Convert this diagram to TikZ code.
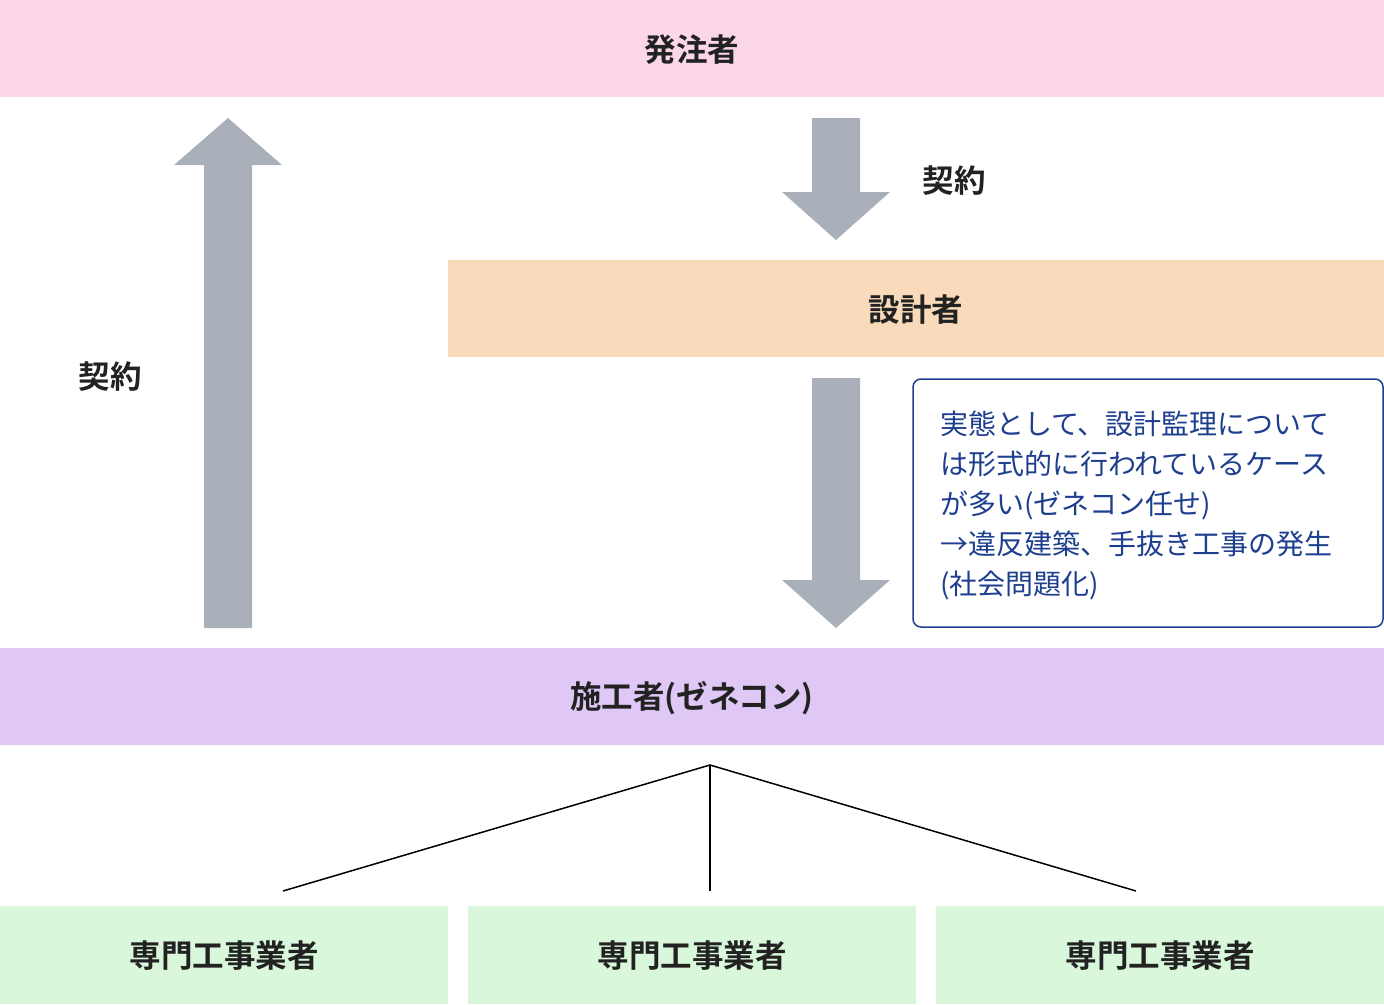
\documentclass[tikz,border=0pt]{standalone}
\usepackage{fontspec}
\setmainfont{Noto Sans CJK JP}
\newfontfamily\jpb{Noto Sans CJK JP Bold}
\usetikzlibrary{positioning}
\definecolor{cpink}{HTML}{FAD6E8}
\definecolor{cpeach}{HTML}{F9DABA}
\definecolor{clav}{HTML}{DFC8F5}
\definecolor{cgreen}{HTML}{D9F7DA}
\definecolor{carrow}{HTML}{AAB0BA}
\definecolor{cblue}{HTML}{1E3F8F}
\definecolor{ctext}{HTML}{222222}
\tikzset{
  band/.style={fill=#1, draw=none, inner sep=0pt},
  lbl/.style={font=\jpb\fontsize{31.5}{36}\selectfont, text=ctext},
  bigarrow/.style={fill=carrow, draw=none},
  notebox/.style={draw=cblue, line width=1.5pt, rounded corners=8pt, fill=white},
  notetext/.style={font=\fontsize{28}{40}\selectfont, text=cblue, align=left, anchor=north west, inner sep=0pt},
  conn/.style={draw=black, line width=1.5pt}
}
\begin{document}
\begin{tikzpicture}[x=1pt,y=-1pt]
\useasboundingbox (0,0) rectangle (1384,1004);
% bands
\fill[cpink] (0,0) rectangle (1384,97);
\node[lbl] (client) at (692,50) {発注者};
\fill[cpeach] (448,260) rectangle (1384,357);
\node[lbl] (designer) at (916,310) {設計者};
\fill[clav] (0,648) rectangle (1384,745);
\node[lbl] (gc) at (692,698) {施工者(ゼネコン)};
\fill[cgreen] (0,906) rectangle (448,1004);
\fill[cgreen] (468,906) rectangle (916,1004);
\fill[cgreen] (936,906) rectangle (1384,1004);
\node[lbl] (s1) at (224,956) {専門工事業者};
\node[lbl] (s2) at (692,956) {専門工事業者};
\node[lbl] (s3) at (1160,956) {専門工事業者};
% arrows
\fill[carrow] (204,628) -- (204,165) -- (174,165) -- (228,118) -- (282,165) -- (252,165) -- (252,628) -- cycle;
\fill[carrow] (812,118) -- (812,192) -- (782,192) -- (836,240) -- (890,192) -- (860,192) -- (860,118) -- cycle;
\fill[carrow] (812,378) -- (812,580) -- (782,580) -- (836,628) -- (890,580) -- (860,580) -- (860,378) -- cycle;
\node[lbl] (k1) at (110,377) {契約};
\node[lbl] (k2) at (954,181) {契約};
% note
\draw[notebox] (913,379) rectangle (1383,627);
\node[notetext] (note) at (940,411) {実態として、設計監理について\\は形式的に行われているケース\\が多い(ゼネコン任せ)\\→違反建築、手抜き工事の発生\\(社会問題化)};
% connectors
\coordinate (top) at (710,765);
\coordinate (e1) at (283,891);
\coordinate (e2) at (710,891);
\coordinate (e3) at (1136,891);
\draw[conn] (e1) -- (top) -- (e3);
\draw[conn] (top) -- (e2);
\end{tikzpicture}
\end{document}
